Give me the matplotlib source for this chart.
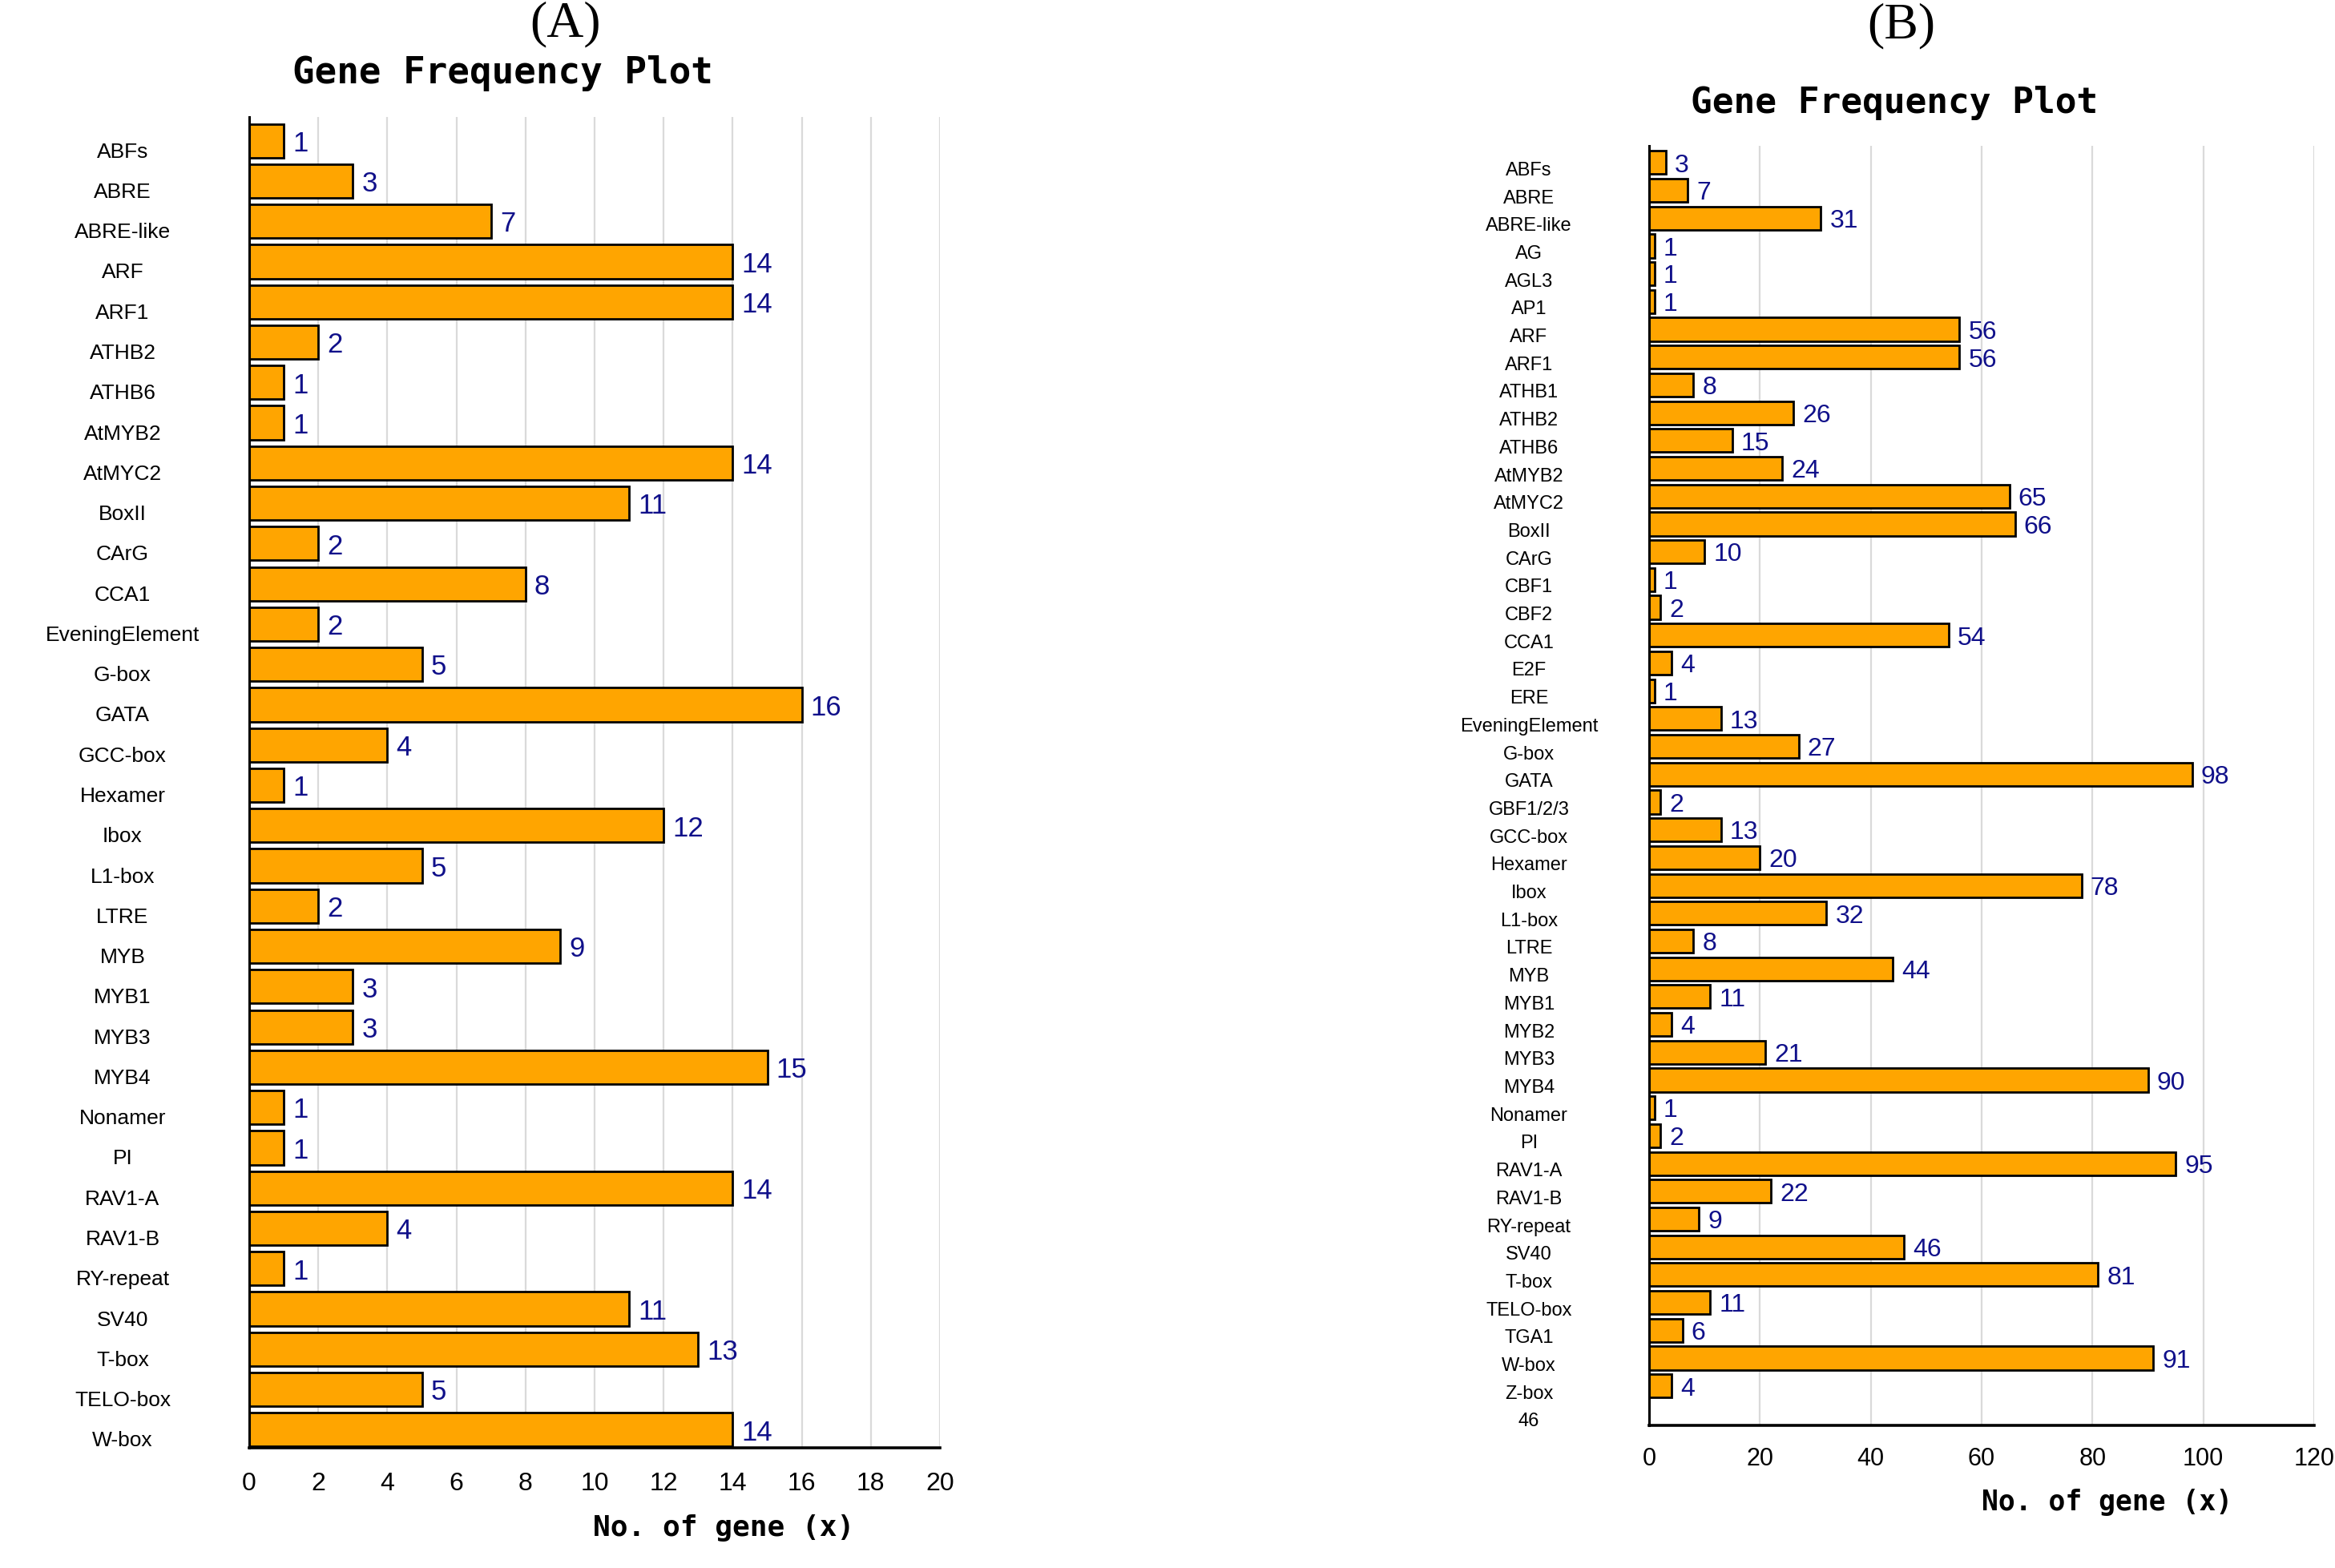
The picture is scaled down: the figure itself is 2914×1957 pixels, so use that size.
"""
Gene frequency plots (A) and (B): counts of cis-elements as horizontal bars
"""

import matplotlib
matplotlib.use('Agg')
import matplotlib.pyplot as plt
from matplotlib import transforms

# panel A data
labels_a = ['ABFs', 'ABRE', 'ABRE-like', 'ARF', 'ARF1', 'ATHB2', 'ATHB6', 'AtMYB2',
            'AtMYC2', 'BoxII', 'CArG', 'CCA1', 'EveningElement', 'G-box', 'GATA',
            'GCC-box', 'Hexamer', 'Ibox', 'L1-box', 'LTRE', 'MYB', 'MYB1', 'MYB3',
            'MYB4', 'Nonamer', 'PI', 'RAV1-A', 'RAV1-B', 'RY-repeat', 'SV40', 'T-box',
            'TELO-box', 'W-box']
values_a = [1, 3, 7, 14, 14, 2, 1, 1, 14, 11, 2, 8, 2, 5, 16, 4, 1, 12, 5, 2, 9, 3, 3,
            15, 1, 1, 14, 4, 1, 11, 13, 5, 14]

# panel B data (last label "46" has no bar)
labels_b = ['ABFs', 'ABRE', 'ABRE-like', 'AG', 'AGL3', 'AP1', 'ARF', 'ARF1', 'ATHB1',
            'ATHB2', 'ATHB6', 'AtMYB2', 'AtMYC2', 'BoxII', 'CArG', 'CBF1', 'CBF2',
            'CCA1', 'E2F', 'ERE', 'EveningElement', 'G-box', 'GATA', 'GBF1/2/3',
            'GCC-box', 'Hexamer', 'Ibox', 'L1-box', 'LTRE', 'MYB', 'MYB1', 'MYB2',
            'MYB3', 'MYB4', 'Nonamer', 'PI', 'RAV1-A', 'RAV1-B', 'RY-repeat', 'SV40',
            'T-box', 'TELO-box', 'TGA1', 'W-box', 'Z-box', '46']
values_b = [3, 7, 31, 1, 1, 1, 56, 56, 8, 26, 15, 24, 65, 66, 10, 1, 2, 54, 4, 1, 13,
            27, 98, 2, 13, 20, 78, 32, 8, 44, 11, 4, 21, 90, 1, 2, 95, 22, 9, 46, 81,
            11, 6, 91, 4]

W, H = 2914, 1958
NARROW = ['Liberation Sans Narrow', 'Liberation Sans', 'DejaVu Sans']
MONO = ['DejaVu Sans Mono']

fig = plt.figure(figsize=(W / 100, H / 100), dpi=100)


def px_axes(left, top, right, bottom):
    return fig.add_axes([left / W, 1 - bottom / H, (right - left) / W, (bottom - top) / H])


def draw_panel(ax, labels, values, xmax, xstep, ylim, label_x, label_dy,
               label_size, value_size, tick_size, tick_pad):
    ax.set_axisbelow(True)
    ax.grid(axis='x', color='#dadada', linewidth=1.6)
    ax.barh(range(len(values)), values, height=0.84, color='#FFA500',
            edgecolor='black', linewidth=2.0, zorder=3)
    ax.set_xlim(0, xmax)
    ax.set_xticks(range(0, xmax + 1, xstep))
    ax.set_ylim(*ylim)
    ax.set_yticks([])
    for side in ['top', 'right']:
        ax.spines[side].set_visible(False)
    ax.spines['left'].set_linewidth(2.2)
    ax.spines['bottom'].set_linewidth(2.6)
    ax.spines['left'].set_zorder(4)
    ax.tick_params(axis='x', length=0, pad=tick_pad, labelsize=tick_size)
    for t in ax.get_xticklabels():
        t.set_family(NARROW)

    # value labels
    for i, v in enumerate(values):
        ax.annotate(str(v), (v, i), xytext=(8, -2), textcoords='offset points',
                    va='center', ha='left', color='#10108a',
                    fontsize=value_size, family=NARROW)

    # category labels centred in the left margin
    trans = transforms.blended_transform_factory(fig.transFigure, ax.transData)
    trans = trans + transforms.ScaledTranslation(0, -label_dy / 100, fig.dpi_scale_trans)
    for i, lab in enumerate(labels):
        ax.text(label_x / W, i, lab, transform=trans, ha='center', va='center',
                fontsize=label_size, family=NARROW, clip_on=False)


# panel A
ax_a = px_axes(311, 147, 1173, 1808)
draw_panel(ax_a, labels_a, values_a, 20, 2, (32.45, -0.59), 153, 13, 19, 25, 23, 21)
fig.text(706 / W, 1 - 30 / H, '(A)', ha='center', va='center',
         fontsize=46, family=['Liberation Serif', 'DejaVu Serif'])
fig.text(627 / W, 1 - 91 / H, 'Gene Frequency Plot', ha='center', va='center',
         fontsize=33, family=MONO, fontweight='bold')
fig.text(903 / W, 1 - 1907 / H, 'No. of gene (x)', ha='center', va='center',
         fontsize=26, family=MONO, fontweight='bold')

# panel B
ax_b = px_axes(2058, 183, 2888, 1780)
draw_panel(ax_b, labels_b, values_b, 120, 20, (45.42, -0.6), 1908, 9, 17, 23, 22, 19)
fig.text(2373 / W, 1 - 32 / H, '(B)', ha='center', va='center',
         fontsize=46, family=['Liberation Serif', 'DejaVu Serif'])
fig.text(2364 / W, 1 - 129 / H, 'Gene Frequency Plot', ha='center', va='center',
         fontsize=32, family=MONO, fontweight='bold')
fig.text(2630 / W, 1 - 1875 / H, 'No. of gene (x)', ha='center', va='center',
         fontsize=25, family=MONO, fontweight='bold')

fig.savefig('out.png', dpi=100, facecolor='white')
